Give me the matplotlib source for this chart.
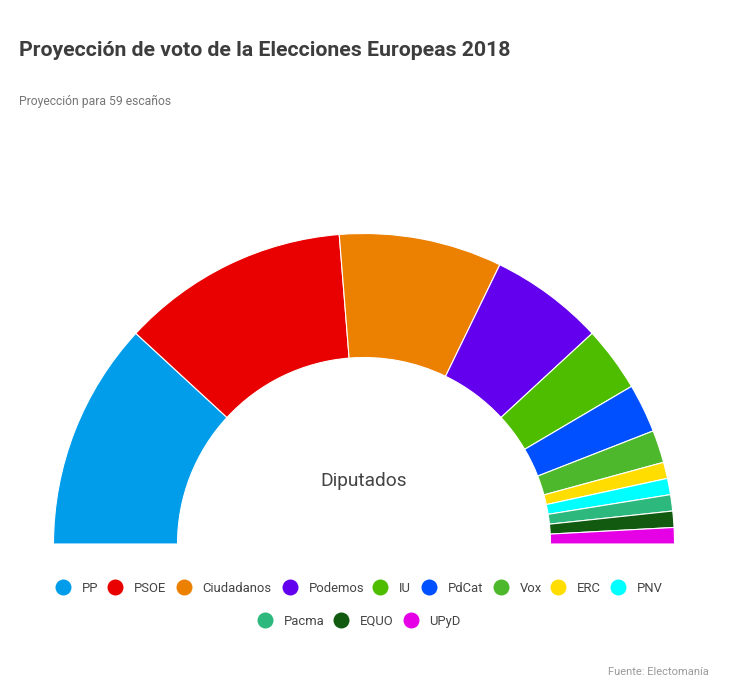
import matplotlib
matplotlib.use("Agg")
import matplotlib.pyplot as plt
from matplotlib.patches import Wedge

plt.rcParams['font.family'] = ['Roboto', 'DejaVu Sans']

parties = ["PP", "PSOE", "Ciudadanos", "Podemos", "IU", "PdCat", "Vox", "ERC", "PNV", "Pacma", "EQUO", "UPyD"]
seats = [14, 14, 10, 7, 4, 3, 2, 1, 1, 1, 1, 1]
colors = ["#019DEA", "#E90000", "#EC8000", "#6300EE", "#4EBD00", "#0050FF",
          "#4DB82B", "#FFDD00", "#00FFFF", "#2DB87E", "#125A10", "#E600E6"]

W, H = 749, 697
fig = plt.figure(figsize=(W / 100, H / 100), dpi=100, facecolor="white")
ax = fig.add_axes([0, 0, 1, 1])
ax.set_xlim(0, W)
ax.set_ylim(0, H)
ax.axis("off")

cx, cy = 364, H - 544
R_out, R_in = 310.5, 186.5
total = sum(seats)
cum = 0
for s, c in zip(seats, colors):
    a2 = 180 - 180 * cum / total
    a1 = 180 - 180 * (cum + s) / total
    ax.add_patch(Wedge((cx, cy), R_out, a1, a2, width=R_out - R_in,
                       facecolor=c, edgecolor="white", linewidth=0.8))
    cum += s

def T(x, y, s, **kw):
    ax.text(x, H - y, s, va="center_baseline", **kw)

T(19, 49, "Proyección de voto de la Elecciones Europeas 2018", fontsize=15.32, fontweight="bold", color="#3D3D3D")
T(19, 100, "Proyección para 59 escaños", fontsize=8.7, color="#757575")
T(364, 478.5, "Diputados", fontsize=13.8, color="#444444", ha="center")
T(709, 671, "Fuente: Electomanía", fontsize=8, color="#9A9A9A", ha="right")

dot_x = [63, 115, 184, 290, 380, 429, 501, 558, 618, 265, 341, 411]
dot_y = [587] * 9 + [620] * 3
for name, c, x, y in zip(parties, colors, dot_x, dot_y):
    ax.plot([x], [H - y], "o", ms=11.5, color=c, mec="none")
    T(x + 18.5, y, name, fontsize=9.4, color="#444444")

fig.savefig("out.png", dpi=100, facecolor="white")
